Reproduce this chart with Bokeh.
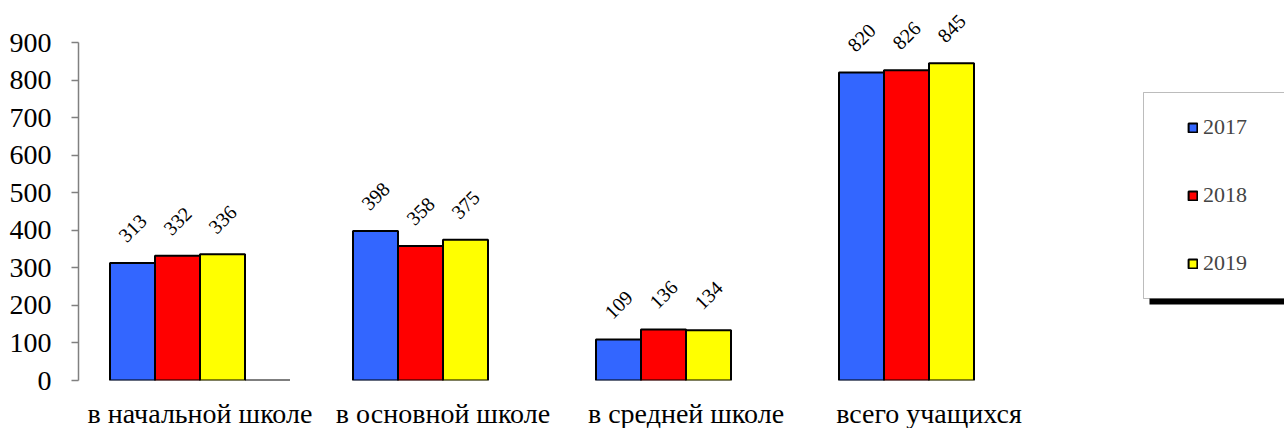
import math
from bokeh.plotting import figure
from bokeh.models import (ColumnDataSource, Range1d, FixedTicker, Legend, LegendItem,
                          BoxAnnotation)
from bokeh.core.properties import value
from bokeh.embed import file_html
from bokeh.resources import INLINE

categories = ["в начальной школе", "в основной школе", "в средней школе", "всего учащихся"]
years = ["2017", "2018", "2019"]
values_2017 = [313, 398, 109, 820]
values_2018 = [332, 358, 136, 826]
values_2019 = [336, 375, 134, 845]
values_extra = [0, float("nan"), float("nan"), float("nan")]
colors = ["#3366FF", "#FF0000", "#FFFF00"]
y_ticks = [0, 100, 200, 300, 400, 500, 600, 700, 800, 900]

FONT = "Liberation Serif"
PX_PER_UNIT = 338 / 900          # 900 units span 338 px
Y_END = 380 / PX_PER_UNIT         # frame reaches the top edge
X_END = 1206 / 243                # one category = 243 px
bar_w = 45 / 243

p = figure(output_backend="svg", toolbar_location=None,
           frame_width=1206, frame_height=380,
           x_range=Range1d(0, X_END), y_range=Range1d(0, Y_END),
           min_border_left=78, min_border_right=0, min_border_top=0, min_border_bottom=48)
p.outline_line_color = None
p.xgrid.visible = False
p.ygrid.visible = False
p.background_fill_color = "white"
p.border_fill_color = "white"

centers = [i + 0.5 for i in range(len(categories))]
series = [values_2017, values_2018, values_2019]
renderers = []
for k, (vals, col) in enumerate(zip(series, colors)):
    xs = [c + (k - 1.5) * bar_w for c in centers]
    src = ColumnDataSource(dict(x=xs, top=vals, lab=[str(v) for v in vals]))
    r = p.vbar(x="x", top="top", bottom=0, width=bar_w, source=src,
               fill_color=col, line_color="black", line_width=2)
    renderers.append(r)
    p.text(x="x", y="top", text="lab", source=src, angle=math.pi / 4,
           text_align="center", text_baseline="middle", y_offset=-35,
           text_font=value(FONT), text_font_size="20px", text_color="black")

xs_extra = [c + 1.5 * bar_w for c in centers]
p.vbar(x=xs_extra, top=values_extra, bottom=0, width=bar_w,
       fill_color="white", line_color="black", line_width=2)

# axes
p.xaxis.ticker = FixedTicker(ticks=centers)
p.xaxis.major_label_overrides = {c: lab for c, lab in zip(centers, categories)}
p.xaxis.axis_line_color = None
p.xaxis.major_tick_line_color = None
p.xaxis.minor_tick_line_color = None
p.xaxis.major_label_text_font = FONT
p.xaxis.major_label_text_font_size = "28px"
p.xaxis.major_label_text_color = "black"
p.xaxis.major_label_standoff = 11

p.yaxis.ticker = FixedTicker(ticks=y_ticks)
p.yaxis.bounds = (0, 900)
p.yaxis.axis_line_color = "#808080"
p.yaxis.axis_line_width = 1.5
p.yaxis.major_tick_line_color = "#808080"
p.yaxis.major_tick_line_width = 1.5
p.yaxis.major_tick_in = 0
p.yaxis.major_tick_out = 7
p.yaxis.minor_tick_line_color = None
p.yaxis.major_label_text_font = FONT
p.yaxis.major_label_text_font_size = "28px"
p.yaxis.major_label_text_color = "black"
p.yaxis.major_label_standoff = 20

# legend frame with shadow
p.add_layout(BoxAnnotation(left=(1149 - 78) / 243, right=X_END + 1,
                           bottom=(380 - 304) * (1 / PX_PER_UNIT),
                           top=(380 - 280) * (1 / PX_PER_UNIT),
                           fill_color="black", fill_alpha=1, line_color=None))
p.add_layout(BoxAnnotation(left=(1143 - 78) / 243, right=X_END + 1,
                           bottom=(380 - 298) * (1 / PX_PER_UNIT),
                           top=(380 - 92) * (1 / PX_PER_UNIT),
                           fill_color="white", fill_alpha=1,
                           line_color="#202020", line_width=1))

legend = Legend(items=[LegendItem(label=y, renderers=[r]) for y, r in zip(years, renderers)],
                location=(1109, 104), orientation="vertical",
                glyph_width=11, glyph_height=11, label_text_font=FONT,
                label_text_font_size="22px", label_standoff=5, label_height=24,
                spacing=42, padding=0, margin=0,
                border_line_color=None, background_fill_alpha=0)
p.add_layout(legend)

open("out.html", "w").write(file_html(p, INLINE))
